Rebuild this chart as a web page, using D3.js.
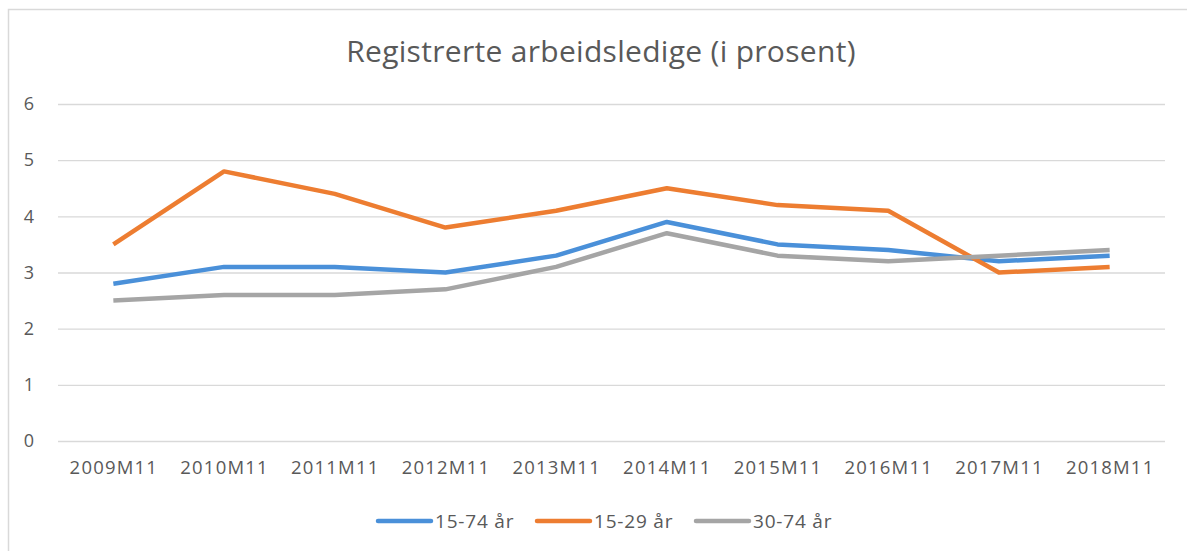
<!DOCTYPE html>
<html>
<head>
<meta charset="utf-8">
<script src="https://cdn.jsdelivr.net/npm/d3@7"></script>
<style>
  body { margin: 0; background: #fff; }
  text { font-family: "Open Sans", "Liberation Sans", sans-serif; fill: #595959; }
</style>
</head>
<body>
<div class="chart-container"></div>
<script>
const categories = ['2009M11', '2010M11', '2011M11', '2012M11', '2013M11',
                    '2014M11', '2015M11', '2016M11', '2017M11', '2018M11'];
const seriesNames = ['15-74 år', '15-29 år', '30-74 år'];
const seriesColors = ['#4a90d9', '#ed7d31', '#a5a5a5'];
const values1574 = [2.8, 3.1, 3.1, 3.0, 3.3, 3.9, 3.5, 3.4, 3.2, 3.3];
const values1529 = [3.5, 4.8, 4.4, 3.8, 4.1, 4.5, 4.2, 4.1, 3.0, 3.1];
const values3074 = [2.5, 2.6, 2.6, 2.7, 3.1, 3.7, 3.3, 3.2, 3.3, 3.4];
const yTicks = [0, 1, 2, 3, 4, 5, 6];

const W = 1187, H = 551;
const margin = {top: 104, right: 22, bottom: 110, left: 58};
const width = W - margin.left - margin.right;
const height = H - margin.top - margin.bottom;

const data = [values1574, values1529, values3074].map((v, i) => ({
    name: seriesNames[i],
    color: seriesColors[i],
    values: v.map((y, j) => ({x: categories[j], y: y}))
}));

const svg = d3.select('.chart-container').append('svg')
    .attr('width', W).attr('height', H);

// chart area border
svg.append('rect')
    .attr('x', 8.5).attr('y', 9.5)
    .attr('width', W + 20).attr('height', H + 20)
    .attr('fill', 'none').attr('stroke', '#d9d9d9').attr('stroke-width', 1.5);

svg.append('text')
    .attr('x', 601).attr('y', 62)
    .attr('text-anchor', 'middle')
    .style('font-size', '30px')
    .style('letter-spacing', '0.3px')
    .text('Registrerte arbeidsledige (i prosent)');

const chart = svg.append('g')
    .attr('transform', 'translate(' + margin.left + ',' + margin.top + ')');

const xScale = d3.scalePoint().domain(categories).range([0, width]).padding(0.5);
const yScale = d3.scaleLinear().domain([0, 6]).range([height, 0]);

// grid + y labels
const yAxis = d3.axisLeft(yScale).tickValues(yTicks).tickFormat(d3.format('d'))
    .tickSize(-width).tickPadding(24);
chart.append('g').classed('y-axis', true).call(yAxis)
    .call(g => g.select('.domain').remove())
    .call(g => g.selectAll('.tick line').attr('stroke', '#d9d9d9').attr('stroke-width', 1.3))
    .call(g => g.selectAll('.tick text').style('font-size', '18px').attr('fill', '#595959'));

const xAxis = d3.axisBottom(xScale).tickSize(0).tickPadding(20);
chart.append('g').classed('x-axis', true)
    .attr('transform', 'translate(0,' + height + ')')
    .call(xAxis)
    .call(g => g.select('.domain').remove())
    .call(g => g.selectAll('.tick text').style('font-size', '18.5px')
        .style('letter-spacing', '1.2px').attr('fill', '#595959'));

const valueline = d3.line()
    .x(d => xScale(d.x))
    .y(d => yScale(d.y));

chart.append('g').attr('class', 'lines').selectAll('path')
    .data(data).enter()
    .append('path')
    .attr('d', d => valueline(d.values))
    .attr('stroke', d => d.color)
    .attr('stroke-width', 4.5)
    .attr('stroke-linejoin', 'round')
    .attr('fill', 'none');

// legend
const legendX = [378, 537, 696];
const legend = svg.append('g').attr('transform', 'translate(0,521)');
const item = legend.selectAll('g').data(data).enter().append('g')
    .attr('transform', (d, i) => 'translate(' + legendX[i] + ',0)');
item.append('line')
    .attr('x1', 0).attr('x2', 53).attr('y1', 0).attr('y2', 0)
    .attr('stroke', d => d.color).attr('stroke-width', 4.5).attr('stroke-linecap', 'round');
item.append('text')
    .attr('x', 57).attr('y', 7)
    .style('font-size', '19px')
    .style('letter-spacing', '0.8px')
    .text(d => d.name);
</script>
</body>
</html>
